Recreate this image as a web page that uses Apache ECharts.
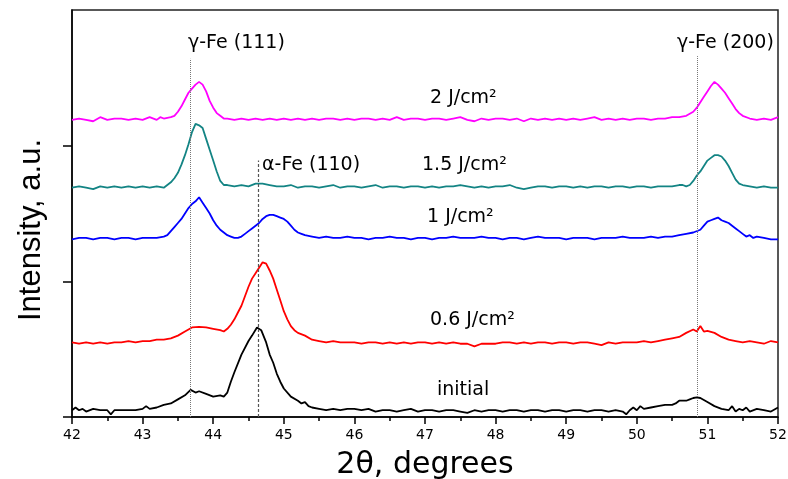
<!DOCTYPE html>
<html>
<head>
<meta charset="utf-8">
<script src="https://cdn.jsdelivr.net/npm/echarts@6/dist/echarts.min.js"></script>
<style>
  html, body { margin: 0; padding: 0; background: #fff; }
  #xrd { width: 788px; height: 479px; }
</style>
</head>
<body>
<div id="xrd"></div>
<script>
// XRD patterns, [2theta, intensity (offset, a.u.)]
const initial = [
  [42.0,0.05],[42.05,0.07],[42.1,0.05],[42.15,0.06],[42.2,0.04],[42.3,0.06],[42.4,0.05],[42.5,0.05],[42.55,0.02],[42.6,0.05],
  [42.7,0.05],[42.8,0.05],[42.9,0.05],[43.0,0.06],[43.05,0.08],[43.1,0.06],[43.2,0.07],[43.3,0.09],[43.4,0.10],[43.5,0.13],
  [43.6,0.16],[43.68,0.20],[43.75,0.18],[43.8,0.19],[43.9,0.17],[44.0,0.15],[44.1,0.16],[44.15,0.15],[44.2,0.18],[44.25,0.26],
  [44.3,0.33],[44.4,0.46],[44.5,0.56],[44.55,0.60],[44.62,0.66],[44.68,0.64],[44.75,0.55],[44.8,0.46],[44.85,0.40],[44.9,0.32],
  [44.95,0.26],[45.0,0.21],[45.1,0.15],[45.2,0.12],[45.25,0.10],[45.3,0.11],[45.35,0.08],[45.4,0.07],[45.5,0.06],[45.6,0.05],
  [45.7,0.06],[45.8,0.05],[45.9,0.06],[46.0,0.06],[46.1,0.05],[46.2,0.06],[46.3,0.04],[46.4,0.05],[46.5,0.05],[46.6,0.04],
  [46.7,0.05],[46.8,0.06],[46.9,0.04],[47.0,0.05],[47.1,0.05],[47.2,0.04],[47.3,0.05],[47.4,0.05],[47.5,0.04],[47.6,0.03],
  [47.7,0.05],[47.8,0.04],[47.9,0.05],[48.0,0.05],[48.1,0.04],[48.2,0.05],[48.3,0.05],[48.4,0.04],[48.5,0.05],[48.6,0.05],
  [48.7,0.04],[48.8,0.05],[48.9,0.05],[49.0,0.04],[49.1,0.05],[49.2,0.05],[49.3,0.04],[49.4,0.05],[49.5,0.05],[49.6,0.04],
  [49.7,0.05],[49.8,0.04],[49.85,0.02],[49.9,0.05],[49.95,0.07],[50.0,0.05],[50.05,0.08],[50.1,0.06],[50.2,0.07],[50.3,0.08],
  [50.4,0.09],[50.5,0.09],[50.55,0.10],[50.6,0.12],[50.7,0.12],[50.75,0.13],[50.8,0.14],[50.85,0.145],[50.9,0.14],[51.0,0.11],
  [51.1,0.08],[51.2,0.06],[51.3,0.05],[51.35,0.08],[51.4,0.04],[51.45,0.06],[51.5,0.05],[51.55,0.07],[51.6,0.04],[51.7,0.06],
  [51.8,0.05],[51.9,0.04],[52.0,0.07]
]
const fluence06 = [
  [42.0,0.55],[42.1,0.54],[42.2,0.55],[42.3,0.54],[42.4,0.55],[42.5,0.54],[42.6,0.55],[42.7,0.55],[42.8,0.56],[42.9,0.55],
  [43.0,0.56],[43.1,0.56],[43.2,0.57],[43.3,0.57],[43.4,0.58],[43.5,0.60],[43.6,0.63],[43.7,0.66],[43.8,0.665],[43.9,0.66],
  [44.0,0.65],[44.1,0.64],[44.15,0.63],[44.2,0.65],[44.25,0.68],[44.3,0.72],[44.35,0.77],[44.4,0.82],[44.45,0.89],[44.5,0.96],
  [44.55,1.02],[44.6,1.06],[44.65,1.10],[44.7,1.14],[44.75,1.13],[44.8,1.08],[44.85,1.02],[44.9,0.94],[44.95,0.86],[45.0,0.78],
  [45.05,0.72],[45.1,0.67],[45.15,0.64],[45.2,0.62],[45.3,0.60],[45.4,0.57],[45.5,0.56],[45.6,0.55],[45.7,0.56],[45.8,0.55],
  [45.9,0.55],[46.0,0.55],[46.1,0.54],[46.2,0.55],[46.3,0.55],[46.4,0.54],[46.5,0.55],[46.6,0.54],[46.7,0.55],[46.8,0.54],
  [46.9,0.55],[47.0,0.55],[47.1,0.54],[47.2,0.55],[47.3,0.54],[47.4,0.55],[47.5,0.54],[47.6,0.54],[47.7,0.52],[47.8,0.54],
  [47.9,0.54],[48.0,0.54],[48.1,0.55],[48.2,0.55],[48.3,0.54],[48.4,0.55],[48.5,0.54],[48.6,0.55],[48.7,0.55],[48.8,0.54],
  [48.9,0.55],[49.0,0.55],[49.1,0.54],[49.2,0.55],[49.3,0.55],[49.4,0.54],[49.5,0.53],[49.6,0.55],[49.7,0.54],[49.8,0.55],
  [49.9,0.55],[50.0,0.55],[50.1,0.56],[50.2,0.55],[50.3,0.56],[50.4,0.57],[50.5,0.58],[50.6,0.59],[50.7,0.62],[50.8,0.645],
  [50.85,0.63],[50.9,0.67],[50.95,0.63],[51.0,0.635],[51.1,0.62],[51.2,0.59],[51.3,0.57],[51.4,0.56],[51.5,0.55],[51.6,0.56],
  [51.7,0.55],[51.8,0.54],[51.9,0.56],[52.0,0.55]
]
const fluence1 = [
  [42.0,1.31],[42.1,1.32],[42.2,1.32],[42.3,1.31],[42.4,1.32],[42.5,1.32],[42.6,1.31],[42.7,1.32],[42.8,1.32],[42.9,1.31],
  [43.0,1.32],[43.1,1.32],[43.2,1.32],[43.3,1.33],[43.35,1.34],[43.4,1.37],[43.45,1.40],[43.5,1.43],[43.55,1.46],[43.6,1.50],
  [43.65,1.54],[43.7,1.57],[43.75,1.59],[43.8,1.62],[43.85,1.58],[43.9,1.54],[43.95,1.50],[44.0,1.45],[44.05,1.41],[44.1,1.38],
  [44.15,1.36],[44.2,1.34],[44.25,1.33],[44.3,1.32],[44.35,1.32],[44.4,1.33],[44.45,1.35],[44.5,1.37],[44.55,1.39],[44.6,1.41],
  [44.65,1.43],[44.7,1.46],[44.75,1.48],[44.8,1.49],[44.85,1.49],[44.9,1.48],[44.95,1.47],[45.0,1.46],[45.05,1.44],[45.1,1.41],
  [45.15,1.38],[45.2,1.36],[45.25,1.35],[45.3,1.34],[45.4,1.33],[45.5,1.32],[45.6,1.33],[45.7,1.32],[45.8,1.32],[45.9,1.33],
  [46.0,1.32],[46.1,1.32],[46.2,1.31],[46.3,1.32],[46.4,1.32],[46.5,1.33],[46.6,1.32],[46.7,1.32],[46.8,1.31],[46.9,1.32],
  [47.0,1.32],[47.1,1.31],[47.2,1.32],[47.3,1.32],[47.4,1.33],[47.5,1.32],[47.6,1.32],[47.7,1.32],[47.8,1.33],[47.9,1.32],
  [48.0,1.32],[48.1,1.31],[48.2,1.32],[48.3,1.32],[48.4,1.31],[48.5,1.32],[48.6,1.33],[48.7,1.32],[48.8,1.32],[48.9,1.32],
  [49.0,1.31],[49.1,1.32],[49.2,1.32],[49.3,1.32],[49.4,1.31],[49.5,1.32],[49.6,1.32],[49.7,1.32],[49.8,1.33],[49.9,1.32],
  [50.0,1.32],[50.1,1.32],[50.2,1.33],[50.3,1.32],[50.4,1.33],[50.5,1.33],[50.6,1.34],[50.7,1.35],[50.8,1.36],[50.9,1.38],
  [50.95,1.41],[51.0,1.44],[51.05,1.45],[51.1,1.46],[51.15,1.47],[51.2,1.45],[51.25,1.44],[51.3,1.43],[51.35,1.41],[51.4,1.39],
  [51.45,1.37],[51.5,1.35],[51.55,1.33],[51.6,1.34],[51.65,1.32],[51.7,1.33],[51.8,1.32],[51.9,1.31],[52.0,1.31]
]
const fluence15 = [
  [42.0,1.69],[42.1,1.70],[42.2,1.69],[42.3,1.68],[42.4,1.70],[42.5,1.69],[42.6,1.70],[42.7,1.69],[42.8,1.70],[42.9,1.69],
  [43.0,1.70],[43.1,1.69],[43.2,1.70],[43.3,1.69],[43.35,1.71],[43.4,1.73],[43.45,1.76],[43.5,1.80],[43.55,1.86],[43.6,1.93],
  [43.65,2.01],[43.7,2.10],[43.75,2.16],[43.8,2.15],[43.85,2.13],[43.9,2.05],[43.95,1.97],[44.0,1.89],[44.05,1.81],[44.1,1.74],
  [44.15,1.71],[44.2,1.71],[44.3,1.70],[44.4,1.71],[44.5,1.70],[44.6,1.72],[44.7,1.72],[44.8,1.71],[44.9,1.70],[45.0,1.70],
  [45.1,1.71],[45.2,1.69],[45.3,1.70],[45.4,1.70],[45.5,1.69],[45.6,1.70],[45.7,1.71],[45.8,1.69],[45.9,1.70],[46.0,1.70],
  [46.1,1.69],[46.2,1.70],[46.3,1.71],[46.4,1.69],[46.5,1.70],[46.6,1.70],[46.7,1.69],[46.8,1.70],[46.9,1.70],[47.0,1.69],
  [47.1,1.70],[47.2,1.69],[47.3,1.70],[47.4,1.70],[47.5,1.71],[47.6,1.70],[47.7,1.69],[47.8,1.70],[47.9,1.69],[48.0,1.70],
  [48.1,1.70],[48.2,1.71],[48.3,1.69],[48.4,1.68],[48.5,1.69],[48.6,1.70],[48.7,1.70],[48.8,1.69],[48.9,1.70],[49.0,1.70],
  [49.1,1.69],[49.2,1.70],[49.3,1.69],[49.4,1.70],[49.5,1.70],[49.6,1.69],[49.7,1.70],[49.8,1.70],[49.9,1.69],[50.0,1.70],
  [50.1,1.70],[50.2,1.69],[50.3,1.70],[50.4,1.70],[50.5,1.70],[50.6,1.71],[50.65,1.71],[50.7,1.70],[50.75,1.71],[50.8,1.74],
  [50.85,1.78],[50.9,1.81],[50.95,1.85],[51.0,1.89],[51.05,1.91],[51.1,1.93],[51.15,1.93],[51.2,1.92],[51.25,1.89],[51.3,1.85],
  [51.35,1.80],[51.4,1.75],[51.45,1.72],[51.5,1.71],[51.6,1.70],[51.7,1.69],[51.8,1.70],[51.9,1.69],[52.0,1.69]
]
const fluence2 = [
  [42.0,2.19],[42.1,2.20],[42.2,2.19],[42.3,2.18],[42.4,2.21],[42.5,2.19],[42.6,2.20],[42.7,2.20],[42.8,2.19],[42.9,2.20],
  [43.0,2.19],[43.1,2.21],[43.2,2.19],[43.25,2.21],[43.3,2.20],[43.4,2.21],[43.45,2.22],[43.5,2.25],[43.55,2.29],[43.6,2.34],
  [43.65,2.39],[43.7,2.42],[43.75,2.45],[43.8,2.47],[43.85,2.45],[43.9,2.40],[43.95,2.33],[44.0,2.28],[44.05,2.24],[44.1,2.22],
  [44.15,2.20],[44.2,2.20],[44.3,2.19],[44.4,2.20],[44.5,2.19],[44.6,2.20],[44.7,2.19],[44.8,2.20],[44.9,2.19],[45.0,2.20],
  [45.1,2.19],[45.2,2.20],[45.3,2.19],[45.4,2.20],[45.5,2.19],[45.6,2.20],[45.7,2.20],[45.8,2.19],[45.9,2.20],[46.0,2.19],
  [46.1,2.20],[46.2,2.20],[46.3,2.19],[46.4,2.20],[46.5,2.19],[46.6,2.21],[46.7,2.19],[46.8,2.20],[46.9,2.20],[47.0,2.19],
  [47.1,2.20],[47.2,2.20],[47.3,2.19],[47.4,2.20],[47.5,2.21],[47.6,2.19],[47.7,2.18],[47.8,2.20],[47.9,2.19],[48.0,2.20],
  [48.1,2.20],[48.2,2.19],[48.3,2.20],[48.4,2.18],[48.5,2.20],[48.6,2.19],[48.7,2.20],[48.8,2.19],[48.9,2.20],[49.0,2.19],
  [49.1,2.20],[49.2,2.19],[49.3,2.20],[49.4,2.21],[49.5,2.19],[49.6,2.20],[49.7,2.19],[49.8,2.20],[49.9,2.19],[50.0,2.20],
  [50.1,2.20],[50.2,2.19],[50.3,2.20],[50.4,2.20],[50.5,2.21],[50.6,2.21],[50.7,2.22],[50.8,2.25],[50.85,2.28],[50.9,2.32],
  [50.95,2.36],[51.0,2.40],[51.05,2.44],[51.1,2.47],[51.15,2.45],[51.2,2.42],[51.25,2.39],[51.3,2.35],[51.35,2.31],[51.4,2.27],
  [51.45,2.24],[51.5,2.22],[51.6,2.20],[51.7,2.19],[51.8,2.20],[51.9,2.19],[52.0,2.21]
]

// reflex positions and how high their guide lines go
const peakPos = [43.68, 44.64, 50.86]
const peakTop = [2.64, 1.89, 2.66]

const chart = echarts.init(document.getElementById('xrd'))

const guide = (i, dash) => [
  { coord: [peakPos[i], 0], lineStyle: dash },
  { coord: [peakPos[i], peakTop[i]] }
]

const txt = (text, x, y) => ({
  type: 'text',
  x: x, y: y,
  style: {
    text: text,
    fill: '#000',
    fontSize: 19,
    fontFamily: 'DejaVu Sans',
    textAlign: 'left',
    textVerticalAlign: 'middle',
    verticalAlign: 'middle'
  }
})

const line = (name, data, color) => ({
  name: name,
  type: 'line',
  data: data,
  showSymbol: false,
  symbol: 'none',
  lineStyle: { color: color, width: 1.8 },
  itemStyle: { color: color },
  animation: false
})

const option = {
  animation: false,
  grid: {
    left: 72, right: 10, top: 10, bottom: 62,
    outerBoundsMode: 'none',
    show: true,
    borderColor: '#222',
    borderWidth: 1.5
  },
  xAxis: {
    type: 'value',
    min: 42, max: 52, interval: 1,
    name: '2θ, degrees',
    nameLocation: 'middle',
    nameGap: 33,
    nameTextStyle: { fontSize: 30, fontFamily: 'DejaVu Sans', color: '#000' },
    axisLine: { show: true, lineStyle: { color: '#000', width: 1.5 } },
    axisTick: { show: true, length: 7, lineStyle: { color: '#000', width: 1.5 } },
    minorTick: { show: true, splitNumber: 2, length: 4, lineStyle: { color: '#000', width: 1.5 } },
    axisLabel: { fontSize: 14, fontFamily: 'DejaVu Sans', color: '#000', margin: 11 },
    splitLine: { show: false }
  },
  yAxis: {
    type: 'value',
    min: 0, max: 3, interval: 1,
    axisLine: { show: true, onZero: false, lineStyle: { color: '#000', width: 1.5 } },
    axisTick: { show: true, length: 9, customValues: [0, 1, 2], lineStyle: { color: '#000', width: 1.5 } },
    axisLabel: { show: false },
    splitLine: { show: false }
  },
  series: [
    Object.assign(line('initial', initial, '#000000'), {
      markLine: {
        silent: true,
        symbol: ['none', 'none'],
        label: { show: false },
        lineStyle: { color: '#777', type: 'dotted', width: 1 },
        data: [
          guide(0),
          guide(1, { color: '#555', type: [3, 2], width: 1.2 }),
          guide(2)
        ]
      }
    }),
    line('0.6 J/cm²', fluence06, '#ff0000'),
    line('1 J/cm²', fluence1, '#0000ff'),
    line('1.5 J/cm²', fluence15, '#138484'),
    line('2 J/cm²', fluence2, '#ff00ff')
  ],
  graphic: [
    {
      type: 'text',
      x: 31, y: 230,
      rotation: Math.PI / 2,
      style: {
        text: 'Intensity, a.u.',
        fill: '#000',
        fontSize: 31,
        fontFamily: 'Liberation Sans',
        textAlign: 'center',
        textVerticalAlign: 'middle',
        align: 'center',
        verticalAlign: 'middle'
      }
    },
    txt('γ-Fe (111)', 188, 43),
    txt('γ-Fe (200)', 677, 43),
    txt('α-Fe (110)', 262, 165),
    txt('2 J/cm²', 430, 98),
    txt('1.5 J/cm²', 422, 165),
    txt('1 J/cm²', 427, 217),
    txt('0.6 J/cm²', 430, 320),
    txt('initial', 437, 390)
  ]
}

chart.setOption(option)
window.addEventListener('resize', () => chart.resize())
</script>
</body>
</html>
